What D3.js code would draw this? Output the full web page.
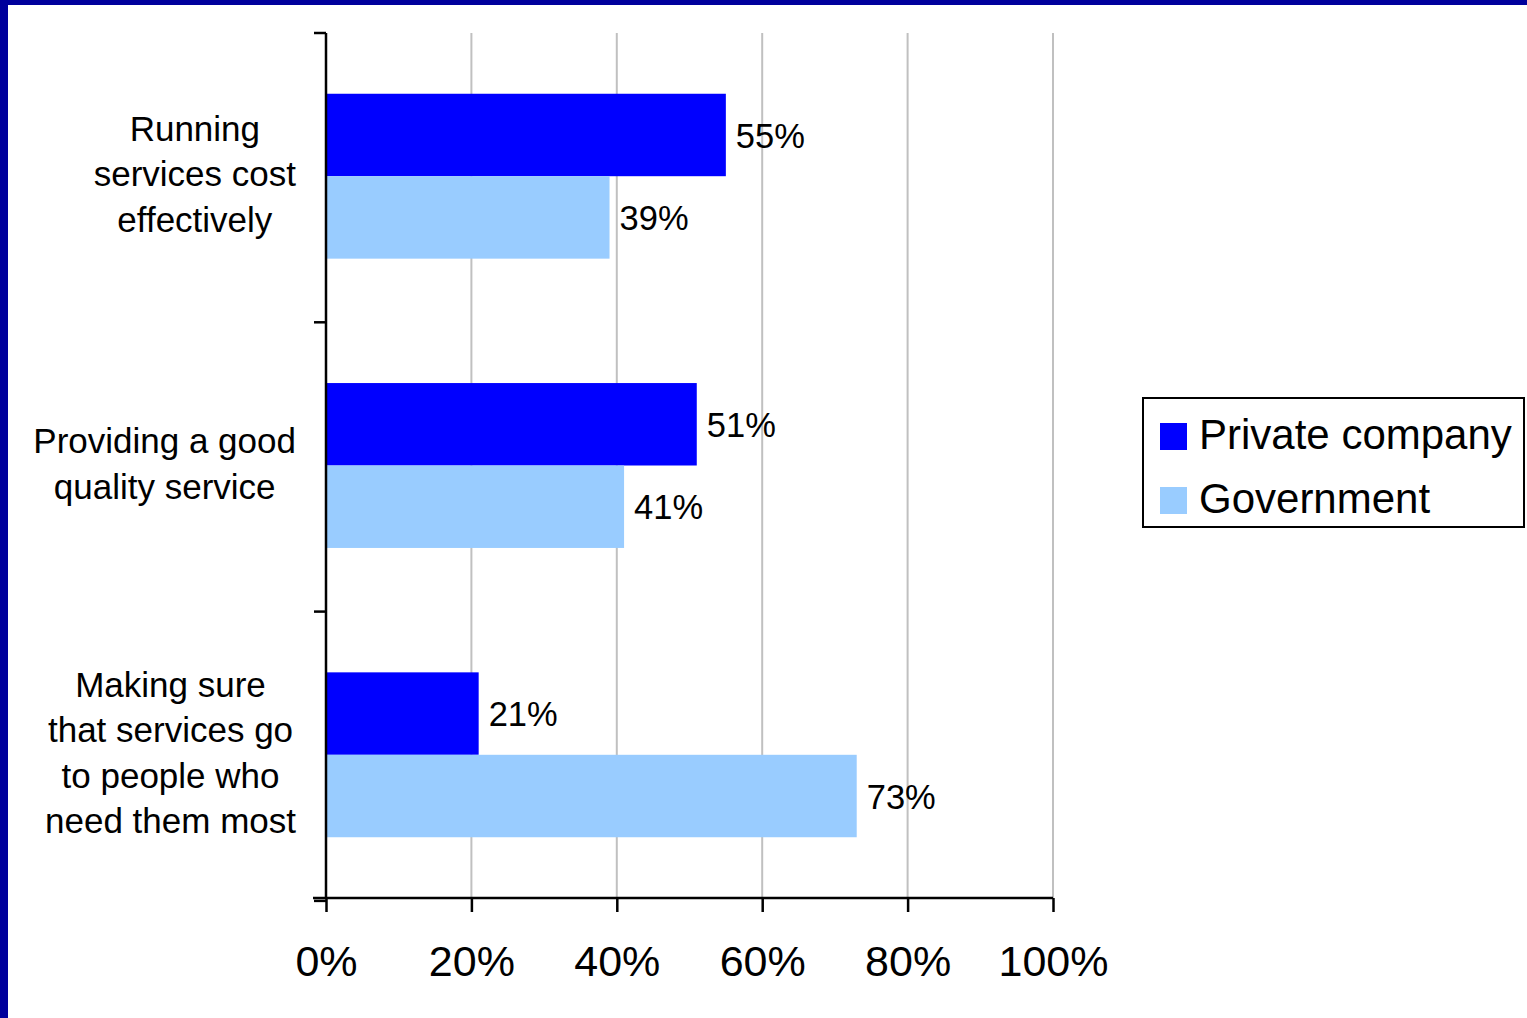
<!DOCTYPE html>
<html>
<head>
<meta charset="utf-8">
<script src="https://cdn.jsdelivr.net/npm/d3@7"></script>
<style>
html,body{margin:0;padding:0;background:#fff;}
svg{display:block;}
text{font-family:"Liberation Sans",Arial,Helvetica,sans-serif;fill:#000;}
</style>
</head>
<body>
<svg id="chart" width="1527" height="1018"></svg>
<script>
const categories = [
  ["Running", "services cost", "effectively"],
  ["Providing a good", "quality service"],
  ["Making sure", "that services go", "to people who", "need them most"]
];
const seriesNames = ["Private company", "Government"];
const privateValues = [55, 51, 21];
const governmentValues = [39, 41, 73];
const xTicks = [0, 20, 40, 60, 80, 100];
const seriesColors = ["#0000FF", "#99CCFF"];

const svg = d3.select("#chart");
const W = 1527, H = 1018;

// background and frame
svg.append("rect").attr("x",0).attr("y",0).attr("width",W).attr("height",H).attr("fill","#fff");
svg.append("rect").attr("x",0).attr("y",0).attr("width",W).attr("height",5).attr("fill","#00009C");
svg.append("rect").attr("x",0).attr("y",0).attr("width",8).attr("height",H).attr("fill","#00009C");

const plot = {left:326, right:1053, top:33, bottom:898};

const x = d3.scaleLinear().domain([0,100]).range([plot.left, plot.right]);
const catIdx = categories.map((d,i)=>i);
const y = d3.scaleBand().domain(catIdx).range([plot.top, plot.bottom]).paddingInner(0.43).paddingOuter(0.21);
const ySub = d3.scaleBand().domain([0,1]).range([0, y.bandwidth()]).padding(0);

// gridlines
svg.append("g").selectAll("line").data(xTicks.filter(t=>t>0)).join("line")
  .attr("x1",d=>x(d)).attr("x2",d=>x(d))
  .attr("y1",plot.top).attr("y2",plot.bottom)
  .attr("stroke","#c0c0c0").attr("stroke-width",2);

// bars
const data = [];
catIdx.forEach(i=>{
  data.push({c:i, s:0, v:privateValues[i]});
  data.push({c:i, s:1, v:governmentValues[i]});
});
svg.append("g").selectAll("rect").data(data).join("rect")
  .attr("x", x(0))
  .attr("y", d=>y(d.c)+ySub(d.s))
  .attr("width", d=>x(d.v)-x(0))
  .attr("height", ySub.bandwidth())
  .attr("fill", d=>seriesColors[d.s]);

// data labels
svg.append("g").selectAll("text").data(data).join("text")
  .attr("x", d=>x(d.v)+10)
  .attr("y", d=>y(d.c)+ySub(d.s)+ySub.bandwidth()/2+0.5)
  .attr("dy","0.35em")
  .attr("font-size",34.5)
  .text(d=>d.v+"%");

// x axis
const xAxis = d3.axisBottom(x).tickValues(xTicks).tickFormat(d=>d+"%").tickSize(14).tickPadding(33);
const gx = svg.append("g").attr("transform",`translate(0,${plot.bottom})`).call(xAxis);
gx.select(".domain").remove();
gx.selectAll(".tick line").attr("stroke","#000").attr("stroke-width",2.5);
gx.selectAll(".tick text").attr("font-size",43).attr("font-family","Liberation Sans, Arial, sans-serif").attr("fill","#000");
svg.append("line").attr("x1",plot.left-13).attr("x2",plot.right).attr("y1",plot.bottom).attr("y2",plot.bottom)
  .attr("stroke","#000").attr("stroke-width",2.5);

// y axis (category boundaries)
const yBounds = [0,1,2,3].map(i=>plot.top + i*y.step());
svg.append("line").attr("x1",plot.left).attr("x2",plot.left).attr("y1",plot.top).attr("y2",plot.bottom)
  .attr("stroke","#000").attr("stroke-width",2.5);
svg.append("g").selectAll("line").data(yBounds).join("line")
  .attr("x1",plot.left-12).attr("x2",plot.left)
  .attr("y1",d=>d).attr("y2",d=>d)
  .attr("stroke","#000").attr("stroke-width",2.5);

// category labels
const lineH = 45.5;
const labelRight = 296;
catIdx.forEach(i=>{
  const lines = categories[i];
  const g = svg.append("g");
  const center = y(i) + y.bandwidth()/2 - 2;
  const texts = g.selectAll("text").data(lines).join("text")
    .attr("font-size",35)
    .attr("y",(d,k)=>center + (k-(lines.length-1)/2)*lineH)
    .attr("dy","0.35em")
    .attr("text-anchor","middle")
    .text(d=>d);
  let maxW = 0;
  texts.each(function(){ maxW = Math.max(maxW, this.getComputedTextLength()); });
  texts.attr("x", labelRight - maxW/2);
});

// legend
const lg = svg.append("g");
lg.append("rect").attr("x",1143).attr("y",398).attr("width",381).attr("height",129)
  .attr("fill","#fff").attr("stroke","#000").attr("stroke-width",2);
seriesNames.forEach((name,k)=>{
  lg.append("rect").attr("x",1160).attr("y",423+k*64).attr("width",27).attr("height",27).attr("fill",seriesColors[k]);
  lg.append("text").attr("x",1199).attr("y",449+k*63.5).attr("font-size",42).text(name);
});
</script>
</body>
</html>
